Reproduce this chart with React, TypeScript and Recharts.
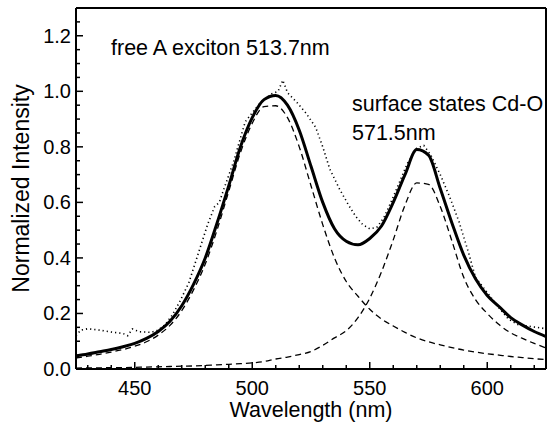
import React from 'react';
import { LineChart, Line, XAxis, YAxis, ReferenceLine, Label } from 'recharts';

// wavelength grid (nm) for the fitted curves
const wavelengths = [
  425, 430, 435, 440, 445, 450, 455, 460, 465, 470, 475, 480, 485, 490, 495, 500, 505, 510, 515, 520,
  525, 530, 535, 540, 545, 550, 555, 560, 565, 570, 575, 580, 585, 590, 595, 600, 605, 610, 615, 620, 625,
];

// thick solid: total fit
const fitTotal = [
  0.047, 0.054, 0.062, 0.07, 0.08, 0.092, 0.11, 0.135, 0.172, 0.228, 0.305, 0.4, 0.525, 0.66, 0.8, 0.905,
  0.97, 0.985, 0.95, 0.86, 0.73, 0.6, 0.505, 0.46, 0.447, 0.47, 0.515, 0.6, 0.7, 0.79, 0.77, 0.65, 0.525,
  0.41, 0.325, 0.265, 0.225, 0.185, 0.158, 0.135, 0.117,
];

// dashed: free A exciton component
const excitonPeak = [
  0.04, 0.046, 0.053, 0.061, 0.07, 0.082, 0.098, 0.122, 0.157, 0.21, 0.285, 0.378, 0.5, 0.64, 0.78, 0.885,
  0.945, 0.948, 0.905, 0.8, 0.66, 0.52, 0.4, 0.315, 0.262, 0.215, 0.18, 0.155, 0.132, 0.112, 0.098, 0.087,
  0.077, 0.068, 0.061, 0.055, 0.05, 0.045, 0.041, 0.037, 0.034,
];

// dashed: surface states Cd-O component
const surfacePeak = [
  0.003, 0.004, 0.004, 0.005, 0.005, 0.006, 0.007, 0.008, 0.009, 0.01, 0.011, 0.013, 0.015, 0.017, 0.019,
  0.022, 0.027, 0.036, 0.043, 0.052, 0.063, 0.085, 0.112, 0.138, 0.185, 0.255, 0.35, 0.465, 0.59, 0.67,
  0.665, 0.585, 0.46, 0.33, 0.25, 0.2, 0.16, 0.13, 0.11, 0.092, 0.076,
];

// dotted: measured spectrum
const measuredX = [
  425, 427, 430, 435, 440, 445, 447, 449, 452, 457, 460, 463, 466, 469, 473, 477, 481, 484, 486, 488, 492,
  497, 503, 508, 511, 513, 515, 519, 523, 527, 530, 533, 537, 541, 544, 547, 550, 553, 556, 559, 562, 566,
  570, 573, 576, 580, 584, 588, 592, 595, 600, 605, 609, 613, 617, 621, 625,
];
const measuredY = [
  0.12, 0.14, 0.145, 0.14, 0.133, 0.128, 0.12, 0.144, 0.134, 0.132, 0.14, 0.16, 0.195, 0.24, 0.31, 0.415,
  0.52, 0.585, 0.6, 0.65, 0.745, 0.89, 0.955, 0.99, 1.0, 1.04, 0.995, 0.96, 0.92, 0.87, 0.8, 0.72, 0.65,
  0.59, 0.55, 0.52, 0.505, 0.51, 0.545, 0.6, 0.66, 0.74, 0.795, 0.805, 0.77, 0.7, 0.62, 0.53, 0.42, 0.33,
  0.275, 0.22, 0.18, 0.16, 0.155, 0.15, 0.145,
];

const xTicks = [430, 440, 450, 460, 470, 480, 490, 500, 510, 520, 530, 540, 550, 560, 570, 580, 590, 600, 610, 620];
const yTicks = [
  0, 0.05, 0.1, 0.15, 0.2, 0.25, 0.3, 0.35, 0.4, 0.45, 0.5, 0.55, 0.6, 0.65, 0.7, 0.75, 0.8, 0.85, 0.9,
  0.95, 1.0, 1.05, 1.1, 1.15, 1.2, 1.25,
];

const fitData = wavelengths.map((w, i) => ({ w, total: fitTotal[i], exciton: excitonPeak[i], surface: surfacePeak[i] }));
const measuredData = measuredX.map((w, i) => ({ w, measured: measuredY[i] }));

const FONT = '"Liberation Sans", Arial, sans-serif';

const XTick = (props: any) => {
  const { x, y, payload } = props;
  const v = payload.value;
  const major = v % 50 === 0;
  return (
    <g>
      <line x1={x} x2={x} y1={y} y2={y - (major ? 7 : 4)} stroke="#000" strokeWidth={1.5} />
      {major && (
        <text x={x} y={y + 26} textAnchor="middle" fontSize={20} fontFamily={FONT} fill="#000">
          {v}
        </text>
      )}
    </g>
  );
};

const YTick = (props: any) => {
  const { x, y, payload } = props;
  const v = payload.value;
  const major = Math.round(v * 100) % 20 === 0;
  return (
    <g>
      <line x1={x} x2={x + (major ? 7 : 4)} y1={y} y2={y} stroke="#000" strokeWidth={1.5} />
      {major && (
        <text x={x - 5} y={y + 7} textAnchor="end" fontSize={20} fontFamily={FONT} fill="#000">
          {v.toFixed(1)}
        </text>
      )}
    </g>
  );
};

export default function App() {
  return (
    <div style={{ position: 'absolute', left: 0, top: 0, width: 548, height: 425, background: '#fff' }}>
      <LineChart width={548} height={425} margin={{ top: 8, right: 2, bottom: 0, left: 0 }}>
        <XAxis
          dataKey="w"
          type="number"
          domain={[425, 625]}
          ticks={xTicks}
          interval={0}
          allowDataOverflow
          height={56}
          tickLine={false}
          tickSize={0}
          tickMargin={0}
          tick={<XTick />}
          axisLine={{ stroke: '#000', strokeWidth: 2 }}
        >
          <Label
            value="Wavelength (nm)"
            position="insideBottom"
            offset={8}
            style={{ fontSize: 21.5, fontFamily: FONT, fill: '#000' }}
          />
        </XAxis>
        <YAxis
          type="number"
          domain={[0, 1.3]}
          ticks={yTicks}
          interval={0}
          allowDataOverflow
          width={76}
          tickLine={false}
          tickSize={0}
          tickMargin={0}
          tick={<YTick />}
          axisLine={{ stroke: '#000', strokeWidth: 2 }}
        >
          <Label
            value="Normalized Intensity"
            angle={-90}
            position="insideLeft"
            offset={21}
            style={{ textAnchor: 'middle', fontSize: 23, fontFamily: FONT, fill: '#000' }}
          />
        </YAxis>
        <ReferenceLine y={1.3} stroke="#000" strokeWidth={2} />
        <ReferenceLine x={625} stroke="#000" strokeWidth={2} />
        <Line
          data={measuredData}
          dataKey="measured"
          type="linear"
          stroke="#000"
          strokeWidth={1.6}
          strokeDasharray="1.2 3"
          dot={false}
          isAnimationActive={false}
        />
        <Line
          data={fitData}
          dataKey="exciton"
          type="monotone"
          stroke="#000"
          strokeWidth={1.3}
          strokeDasharray="6 4"
          dot={false}
          isAnimationActive={false}
        />
        <Line
          data={fitData}
          dataKey="surface"
          type="monotone"
          stroke="#000"
          strokeWidth={1.3}
          strokeDasharray="6 4"
          dot={false}
          isAnimationActive={false}
        />
        <Line
          data={fitData}
          dataKey="total"
          type="monotone"
          stroke="#000"
          strokeWidth={3}
          dot={false}
          isAnimationActive={false}
        />
      </LineChart>
      <svg width={548} height={425} style={{ position: 'absolute', left: 0, top: 0, pointerEvents: 'none' }}>
        <text x={111} y={55} fontSize={21.5} fontFamily={FONT} fill="#000">
          free A exciton 513.7nm
        </text>
        <text x={352} y={111} fontSize={21.5} fontFamily={FONT} fill="#000">
          surface states Cd-O
        </text>
        <text x={352} y={140} fontSize={21.5} fontFamily={FONT} fill="#000">
          571.5nm
        </text>
      </svg>
    </div>
  );
}
